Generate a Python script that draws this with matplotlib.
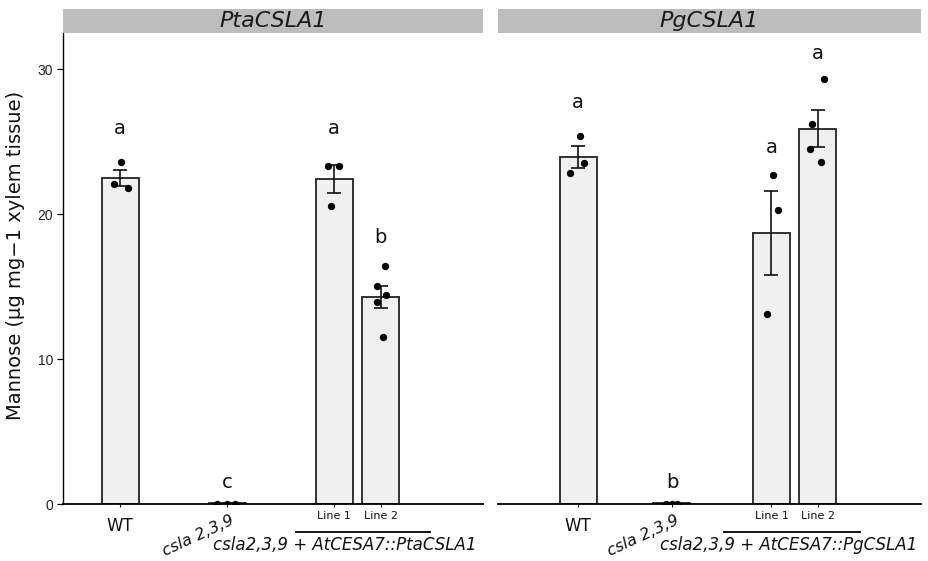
import numpy as np
import matplotlib
matplotlib.use("Agg")
import matplotlib.pyplot as plt
from matplotlib.patches import Rectangle

plt.rcParams['font.family'] = ['DejaVu Sans']

# data
groups = ["WT", "csla 2,3,9", "Line 1", "Line 2"]

pta_means = [22.48, 0.05, 22.41, 14.28]
pta_se = [0.55, 0.0, 0.95, 0.78]
pta_points = [[23.6, 22.05, 21.8], [0, 0, 0], [23.33, 23.33, 20.57],
              [16.43, 15.06, 14.41, 13.95, 11.54]]
pta_jitter = [[0.007, -0.053, 0.072], [-0.093, 0.0, 0.075], [-0.056, 0.047, -0.028],
              [0.037, -0.040, 0.053, -0.031, 0.021]]
pta_letters = ["a", "c", "a", "b"]
pta_letter_y = [25.9, 1.45, 25.9, 18.4]

pg_means = [23.95, 0.05, 18.67, 25.91]
pg_se = [0.75, 0.0, 2.9, 1.27]
pg_points = [[25.38, 23.56, 22.85], [0, 0, 0], [22.67, 20.32, 13.08],
             [29.31, 26.25, 24.48, 23.61]]
pg_jitter = [[0.019, 0.059, -0.075], [-0.056, 0.0, 0.044], [0.017, 0.064, -0.045],
             [0.061, -0.054, -0.070, 0.030]]
pg_letters = ["a", "b", "a", "a"]
pg_letter_y = [27.7, 1.45, 24.6, 31.1]

W, H = 929, 561
fig = plt.figure(figsize=(W / 100, H / 100), dpi=100)


def px_axes(x0, x1, y0, y1):
    return fig.add_axes([x0 / W, 1 - y1 / H, (x1 - x0) / W, (y1 - y0) / H])


panels = [
    dict(name="PtaCSLA1", x0=63, x1=483, pos=[0.533, 1.533, 2.533, 2.97],
         means=pta_means, se=pta_se, pts=pta_points, jit=pta_jitter,
         letters=pta_letters, ly=pta_letter_y, line=(2.178, 3.43), txt_x=2.636),
    dict(name="PgCSLA1", x0=498, x1=921, pos=[0.748, 1.626, 2.556, 2.986],
         means=pg_means, se=pg_se, pts=pg_points, jit=pg_jitter,
         letters=pg_letters, ly=pg_letter_y, line=(2.112, 3.383), txt_x=2.715),
]

unit = 107.0
bw = 0.346
for i, p in enumerate(panels):
    ax = px_axes(p["x0"], p["x1"], 33, 504)
    ax.set_xlim(0, (p["x1"] - p["x0"]) / unit)
    ax.set_ylim(0, 32.5)
    pos = p["pos"]
    ax.bar(pos, p["means"], width=bw, color="#f0f0f0", edgecolor="#222222",
           linewidth=1.3, zorder=2)
    for k in range(4):
        if p["se"][k] > 0:
            ax.errorbar(pos[k], p["means"][k], yerr=p["se"][k], fmt="none",
                        ecolor="#111111", elinewidth=1.2, capsize=5, capthick=1.2, zorder=3)
        xs = [pos[k] + j for j in p["jit"][k]]
        ax.scatter(xs, p["pts"][k], s=28, color="black", zorder=4, linewidths=0)
        ax.text(pos[k], p["ly"][k], p["letters"][k], ha="center", va="center",
                fontsize=14, color="#111111")

    for s in ["top", "right"]:
        ax.spines[s].set_visible(False)
    ax.spines["bottom"].set_linewidth(1.3)
    ax.spines["bottom"].set_color("black")
    if i == 0:
        ax.spines["left"].set_linewidth(1.0)
        ax.set_yticks([0, 10, 20, 30])
        ax.tick_params(axis="y", length=4, width=0.9, pad=3, labelsize=10,
                       labelcolor="#222222")
        for t in ax.get_yticklabels():
            t.set_fontfamily("Liberation Sans")
        ax.set_ylabel("Mannose (µg mg−1 xylem tissue)", fontsize=14, color="#111111")
        ax.yaxis.set_label_coords(-0.09, 0.527)
    else:
        ax.spines["left"].set_visible(False)
        ax.set_yticks([])

    ax.set_xticks(pos)
    ax.set_xticklabels(["WT", "", "Line 1", "Line 2"])
    ax.tick_params(axis="x", length=2.5, width=0.8, pad=2.5, labelcolor="#111111")
    labs = ax.get_xticklabels()
    labs[0].set_fontsize(12)
    labs[0].set_y(-0.012)
    labs[2].set_fontsize(8)
    labs[3].set_fontsize(8)

    ax.text(pos[1] + 0.03, -0.018, groups[1], transform=ax.get_xaxis_transform(),
            rotation=25, rotation_mode="anchor", ha="right", va="top",
            fontsize=11.5, style="italic", color="#111111")
    ax.plot(p["line"], [-0.0594, -0.0594], transform=ax.get_xaxis_transform(),
            color="black", lw=1.3, clip_on=False)
    ax.text(p["txt_x"], -0.087, "csla2,3,9 + AtCESA7::" + p["name"],
            transform=ax.get_xaxis_transform(), ha="center", va="center",
            fontsize=12, style="italic", color="#111111")

    # facet strip
    fig.patches.append(Rectangle((p["x0"] / W, 1 - 33 / H), (p["x1"] - p["x0"]) / W,
                                 24 / H, transform=fig.transFigure,
                                 facecolor="#bdbdbd", edgecolor="none"))
    fig.text((p["x0"] + p["x1"]) / 2 / W, 1 - 21 / H, p["name"], ha="center",
             va="center", fontsize=16, style="italic", color="#1a1a1a")

fig.savefig("out.png", dpi=100)
